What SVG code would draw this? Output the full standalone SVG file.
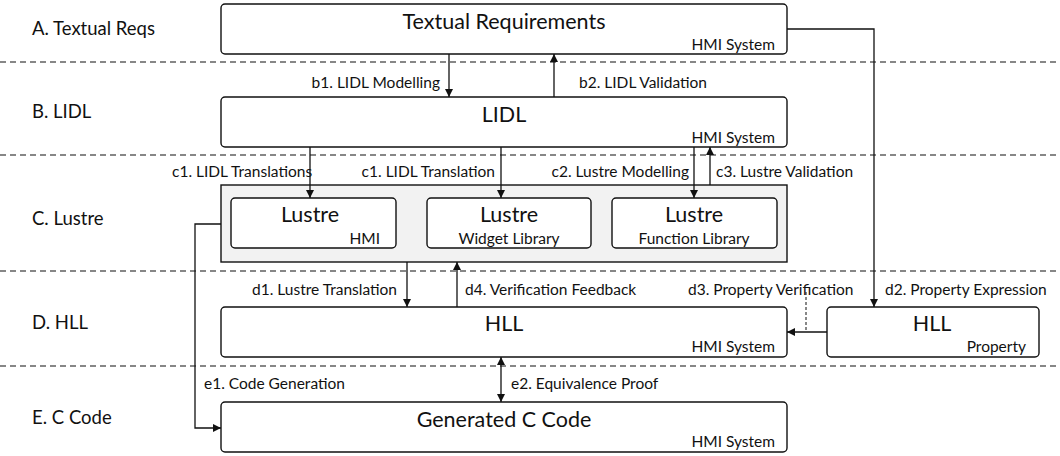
<svg xmlns="http://www.w3.org/2000/svg" width="1060" height="456" viewBox="0 0 1060 456">
<style>
text{font-family:Lato,"Liberation Sans",sans-serif;fill:#111}
.sep{stroke:#111;stroke-width:1.2;stroke-dasharray:6 4;fill:none}
.box{fill:#fff;stroke:#111;stroke-width:1.4}
.grp{fill:#f2f2f2;stroke:#111;stroke-width:1.4}
.title{font-size:21.5px;text-anchor:middle}
.sub{font-size:15.5px;text-anchor:end}
.lane{font-size:18.5px}
.lbl{font-size:15.5px}
.c{stroke:#111;stroke-width:1.3;fill:none}
.dash{stroke:#111;stroke-width:1;stroke-dasharray:3 2;fill:none}
</style>
<defs>
<marker id="ah" viewBox="0 0 10 10" refX="10" refY="5" markerWidth="8" markerHeight="8" markerUnits="userSpaceOnUse" orient="auto-start-reverse">
<path d="M0,0 L10,5 L0,10 z" fill="#111"/>
</marker>
</defs>
<rect width="1060" height="456" fill="#fff"/>
<g id="separators">
<line class="sep" x1="0" y1="62" x2="1060" y2="62"/>
<line class="sep" x1="0" y1="155" x2="1060" y2="155"/>
<line class="sep" x1="0" y1="271" x2="1060" y2="271"/>
<line class="sep" x1="0" y1="366" x2="1060" y2="366"/>
</g>
<g id="lanes">
<text class="lane" x="32" y="35">A. Textual Reqs</text>
<text class="lane" x="32" y="118">B. LIDL</text>
<text class="lane" x="32" y="225">C. Lustre</text>
<text class="lane" x="32" y="329">D. HLL</text>
<text class="lane" x="32" y="424">E. C Code</text>
</g>
<g id="textual">
<rect class="box" x="221" y="4" width="566" height="50" rx="4"/>
<text class="title" x="504" y="29">Textual Requirements</text>
<text class="sub" x="775" y="50">HMI System</text>
</g>
<g id="lidl">
<rect class="box" x="221" y="97" width="566" height="50" rx="4"/>
<text class="title" x="504" y="122">LIDL</text>
<text class="sub" x="775" y="143">HMI System</text>
</g>
<g id="lustre">
<rect class="grp" x="221" y="185" width="566" height="77"/>
<g id="lustre-hmi">
<rect class="box" x="231" y="198" width="165" height="50" rx="4"/>
<text class="title" x="310" y="222">Lustre</text>
<text class="sub" x="380" y="244">HMI</text>
</g>
<g id="lustre-widget">
<rect class="box" x="427" y="198" width="164" height="50" rx="4"/>
<text class="title" x="509" y="222">Lustre</text>
<text class="sub" x="509" y="244" style="text-anchor:middle">Widget Library</text>
</g>
<g id="lustre-function">
<rect class="box" x="612" y="198" width="165" height="50" rx="4"/>
<text class="title" x="694" y="222">Lustre</text>
<text class="sub" x="694" y="244" style="text-anchor:middle">Function Library</text>
</g>
</g>
<g id="hll">
<rect class="box" x="221" y="307" width="566" height="50" rx="4"/>
<text class="title" x="504" y="331">HLL</text>
<text class="sub" x="775" y="352">HMI System</text>
</g>
<g id="hll-property">
<rect class="box" x="827" y="307" width="212" height="50" rx="4"/>
<text class="title" x="932" y="331">HLL</text>
<text class="sub" x="1026" y="352">Property</text>
</g>
<g id="ccode">
<rect class="box" x="221" y="402" width="566" height="50" rx="4"/>
<text class="title" x="504" y="427">Generated C Code</text>
<text class="sub" x="775" y="447">HMI System</text>
</g>
<g id="connectors">
<line class="c" x1="449" y1="54" x2="449" y2="97" marker-end="url(#ah)"/>
<line class="c" x1="554" y1="97" x2="554" y2="54" marker-end="url(#ah)"/>
<polyline class="c" points="787,29 874,29 874,307" marker-end="url(#ah)"/>
<line class="c" x1="310" y1="147" x2="310" y2="198" marker-end="url(#ah)"/>
<line class="c" x1="501" y1="147" x2="501" y2="198" marker-end="url(#ah)"/>
<line class="c" x1="694" y1="147" x2="694" y2="198" marker-end="url(#ah)"/>
<line class="c" x1="710" y1="185" x2="710" y2="147" marker-end="url(#ah)"/>
<line class="c" x1="407" y1="262" x2="407" y2="307" marker-end="url(#ah)"/>
<line class="c" x1="457" y1="307" x2="457" y2="262" marker-end="url(#ah)"/>
<line class="c" x1="827" y1="332" x2="787" y2="332" marker-end="url(#ah)"/>
<line class="dash" x1="806" y1="292" x2="806" y2="332"/>
<line class="c" x1="501" y1="357" x2="501" y2="402" marker-start="url(#ah)" marker-end="url(#ah)"/>
<polyline class="c" points="221,224 195,224 195,428 221,428" marker-end="url(#ah)"/>
<text class="lbl" x="440" y="88" text-anchor="end">b1. LIDL Modelling</text>
<text class="lbl" x="579" y="88">b2. LIDL Validation</text>
<text class="lbl" x="172" y="177">c1. LIDL Translations</text>
<text class="lbl" x="495" y="177" text-anchor="end">c1. LIDL Translation</text>
<text class="lbl" x="689" y="177" text-anchor="end">c2. Lustre Modelling</text>
<text class="lbl" x="716" y="177">c3. Lustre Validation</text>
<text class="lbl" x="397" y="295" text-anchor="end">d1. Lustre Translation</text>
<text class="lbl" x="465" y="295">d4. Verification Feedback</text>
<text class="lbl" x="688" y="295">d3. Property Verification</text>
<text class="lbl" x="885" y="295">d2. Property Expression</text>
<text class="lbl" x="204" y="389">e1. Code Generation</text>
<text class="lbl" x="511" y="389">e2. Equivalence Proof</text>
</g>
</svg>
